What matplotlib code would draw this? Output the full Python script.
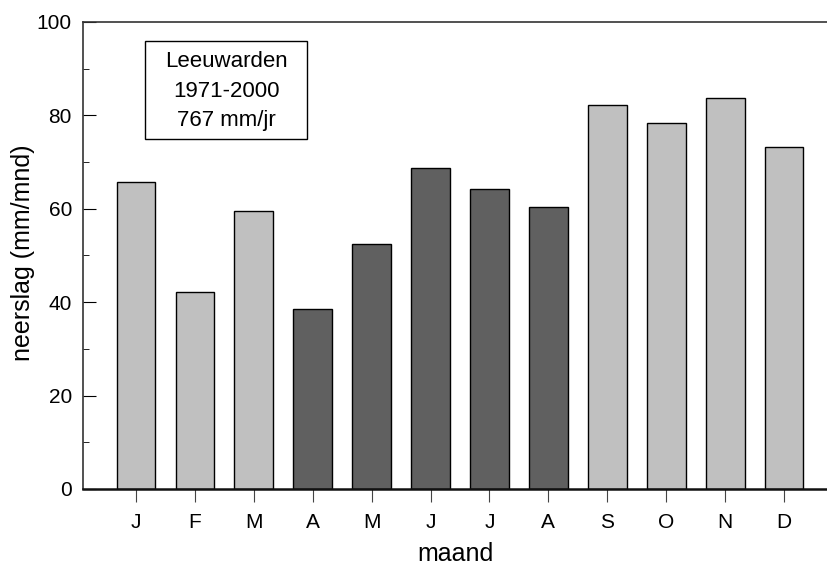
import matplotlib.pyplot as plt
from matplotlib.patches import Rectangle
import numpy as np

plt.rcParams['font.family'] = ['Liberation Sans', 'DejaVu Sans']

months = ["J", "F", "M", "A", "M", "J", "J", "A", "S", "O", "N", "D"]
neerslag = [65.7, 42.2, 59.5, 38.5, 52.5, 68.8, 64.3, 60.3, 82.2, 78.4, 83.8, 73.2]
summer = [False, False, False, True, True, True, True, True, False, False, False, False]

colors = ['#606060' if s else '#c0c0c0' for s in summer]

fig = plt.figure(figsize=(8.27, 5.67), dpi=100)
ax = fig.add_axes([0.1004, 0.1376, 0.8996, 0.8236])

x = np.arange(len(months))
ax.bar(x, neerslag, width=0.66, color=colors, edgecolor='black', linewidth=1.0)

ax.set_xlim(-0.9, 11.73)
ax.set_ylim(0, 100)
ax.set_xticks(x)
ax.set_xticklabels(months)
ax.set_yticks(range(0, 101, 20))
ax.set_yticks(range(10, 100, 20), minor=True)

ax.spines['right'].set_visible(False)
for s in ax.spines.values():
    s.set_color('#333333')
    s.set_linewidth(1.2)
ax.spines['bottom'].set_color('#111111')
ax.spines['bottom'].set_linewidth(1.8)

ax.tick_params(axis='y', which='major', direction='in', length=9, labelsize=15, pad=8)
ax.tick_params(axis='y', which='minor', direction='in', length=4)
ax.tick_params(axis='x', direction='out', length=9, labelsize=15, pad=8, color='#444444')

ax.set_xlabel("maand", fontsize=18)
ax.xaxis.set_label_coords(0.5, -0.114)
ax.set_ylabel("neerslag (mm/mnd)", fontsize=18)
ax.yaxis.set_label_coords(-0.0645, 0.505)

# legend-like info box
ax.add_patch(Rectangle((0.0833, 0.749), 0.2177, 0.210, transform=ax.transAxes,
                       facecolor='white', edgecolor='black', linewidth=1.0, zorder=3))
ax.text(0.1922, 0.852, "Leeuwarden\n1971-2000\n767 mm/jr", fontsize=16, ha='center', va='center',
        linespacing=1.55, transform=ax.transAxes, zorder=4)

fig.savefig("out.png", dpi=100)
